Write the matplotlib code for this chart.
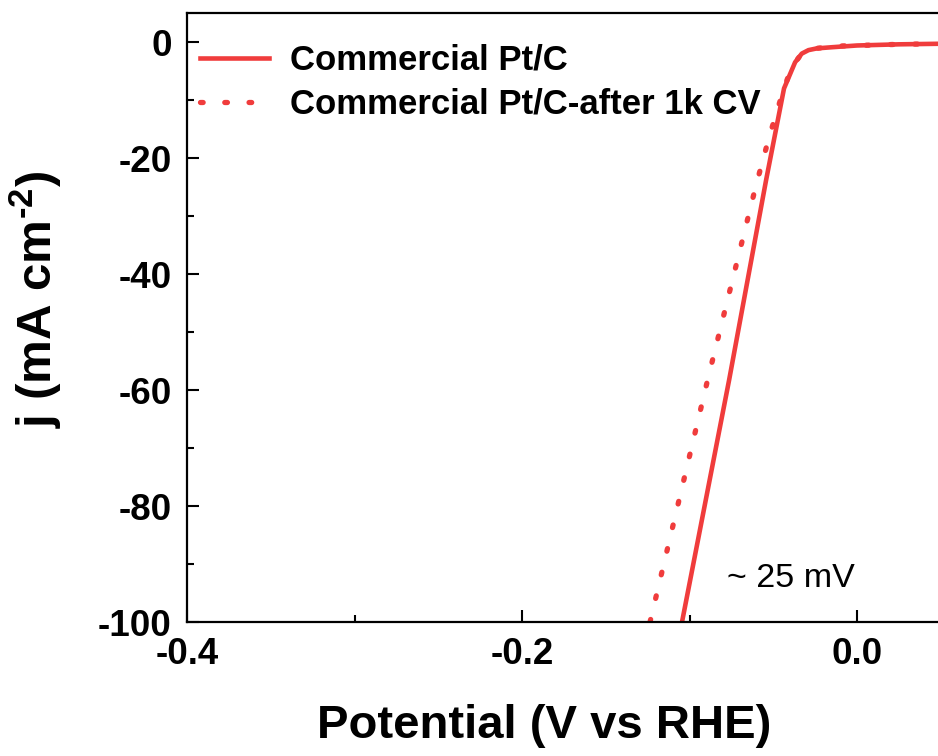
import numpy as np
import matplotlib.pyplot as plt
from matplotlib.ticker import MultipleLocator

plt.rcParams['font.family'] = ['Liberation Sans', 'DejaVu Sans']
plt.rcParams['mathtext.fontset'] = 'custom'
plt.rcParams['mathtext.rm'] = 'Liberation Sans:bold'
plt.rcParams['mathtext.bf'] = 'Liberation Sans:bold'
plt.rcParams['mathtext.default'] = 'bf'

# Curva de Pt/C comercial (V vs RHE, mA cm^-2)
v_fresh = [-0.1045, -0.0764, -0.0543, -0.0436, -0.037, -0.033, -0.029, -0.024, -0.015, 0.0, 0.025, 0.05]
j_fresh = [-100, -58.3, -23.8, -8.0, -3.5, -2.0, -1.4, -1.1, -0.9, -0.6, -0.4, -0.3]

# Después de 1k ciclos CV
v_after = [-0.1236, -0.089, -0.0603, -0.0525, -0.044, -0.039, -0.033, -0.0275, -0.012, 0.0, 0.025, 0.05]
j_after = [-100, -58.0, -24.7, -16.4, -8.3, -4.3, -2.0, -1.2, -0.7, -0.6, -0.4, -0.3]

labels = ["Commercial Pt/C", "Commercial Pt/C-after 1k CV"]
red = '#F03C3C'

fig = plt.figure(figsize=(9.38, 7.56), dpi=100)
ax = fig.add_axes([0.1994, 0.1772, 0.8036, 0.8056])

ax.plot(v_fresh, j_fresh, color=red, lw=3.3, label=labels[0])
ax.plot(v_after, j_after, color=red, lw=3.8, linestyle=(0, (0.5, 4.1)),
        dash_capstyle='round', label=labels[1])

ax.set_xlim(-0.4, 0.05)
ax.set_ylim(-100, 5)
ax.xaxis.set_minor_locator(MultipleLocator(0.1))
ax.yaxis.set_minor_locator(MultipleLocator(10))
ax.set_xticks([-0.4, -0.2, 0.0])
ax.set_xticklabels(['-0.4', '-0.2', '0.0'])
ax.set_yticks([0, -20, -40, -60, -80, -100])
ax.set_yticklabels(['0', '-20', '-40', '-60', '-80', '-100'])

for s in ax.spines.values():
    s.set_linewidth(1.6)
ax.tick_params(which='both', direction='in', width=1.5, labelsize=26.5, pad=11)
ax.tick_params(which='major', length=8.5)
ax.tick_params(which='minor', length=5)
for t in ax.get_xticklabels() + ax.get_yticklabels():
    t.set_fontweight('bold')

ax.set_xlabel("Potential (V vs RHE)", fontsize=34, fontweight='bold')
ax.set_ylabel(r"j (mA cm$^{\text{-2}}$)", fontsize=35.5, fontweight='bold')
ax.xaxis.set_label_coords(0.474, -0.135)
ax.yaxis.set_label_coords(-0.163, 0.53)

ax.text(-0.0776, -92.5, "~ 25 mV", fontsize=24.5, ha='left', va='center')

leg = ax.legend(loc='upper left', bbox_to_anchor=(0.012, 0.955), frameon=False,
                prop={'size': 25, 'weight': 'bold'}, handlelength=2.0,
                handletextpad=0.6, labelspacing=0.32, borderpad=0.1, borderaxespad=0)

fig.savefig("out.png", dpi=100)
